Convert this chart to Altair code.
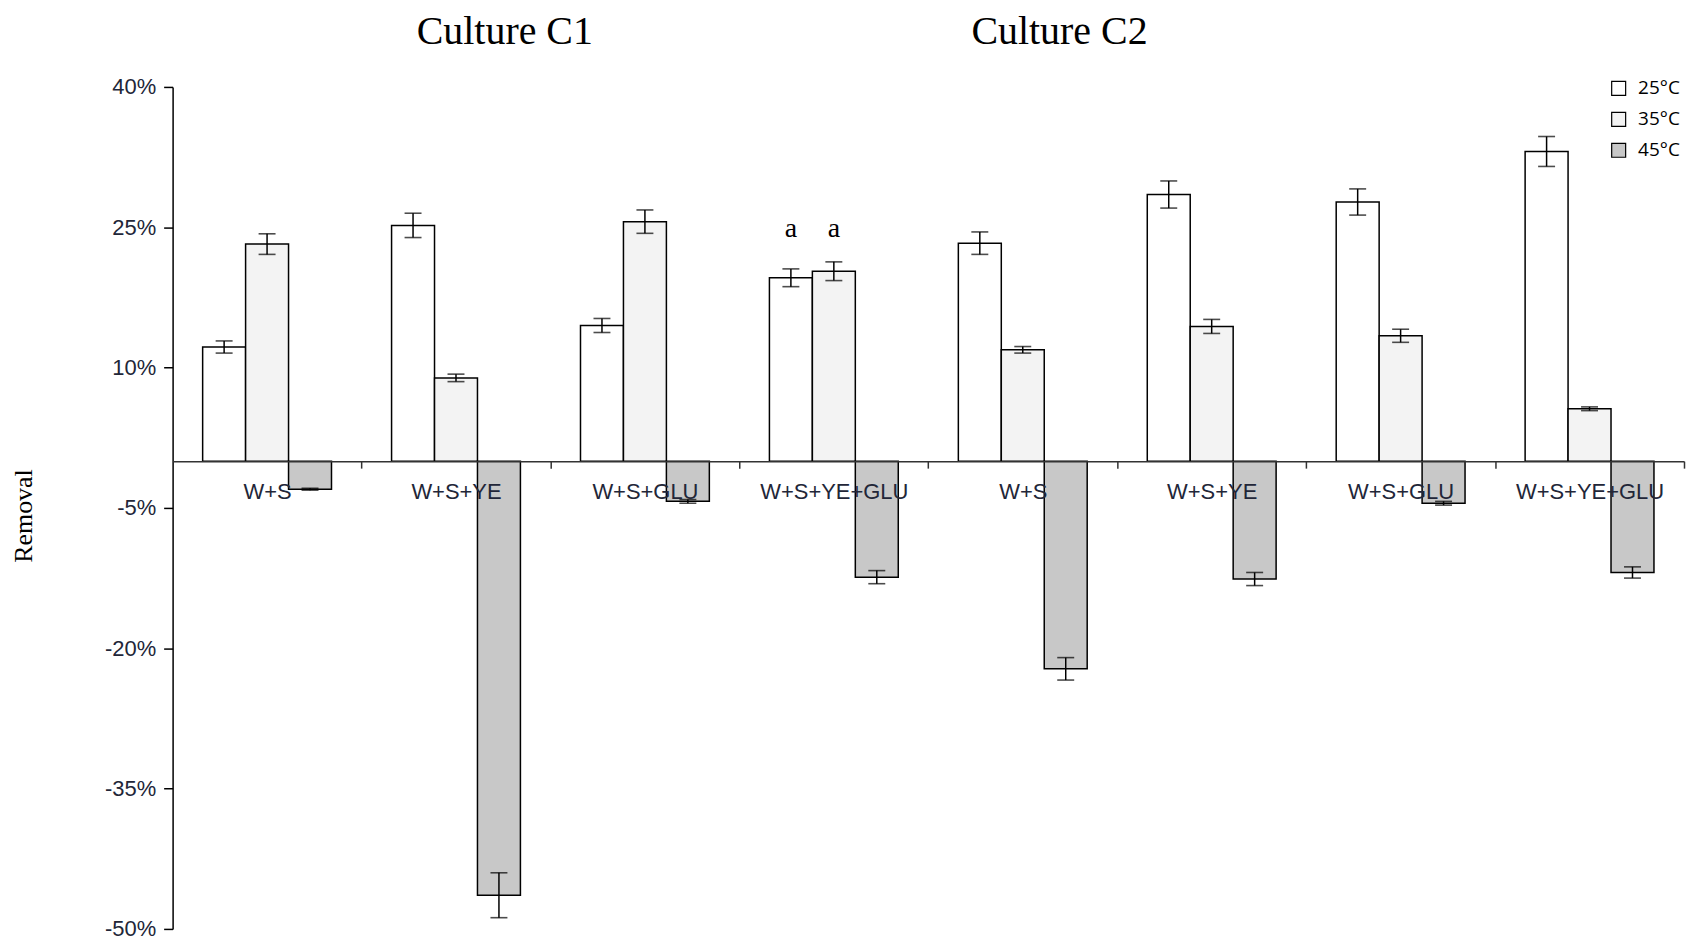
import altair as alt
import pandas as pd

# ---- data ----
cultures = ["C1", "C1", "C1", "C1", "C2", "C2", "C2", "C2"]
treatments = ["W+S", "W+S+YE", "W+S+GLU", "W+S+YE+GLU",
              "W+S", "W+S+YE", "W+S+GLU", "W+S+YE+GLU"]
temps = ["25°C", "35°C", "45°C"]

v25 = [12.2, 25.2, 14.5, 19.6, 23.3, 28.5, 27.7, 33.1]
v35 = [23.2, 8.9, 25.6, 20.3, 11.9, 14.4, 13.4, 5.6]
v45 = [-3.0, -46.4, -4.3, -12.4, -22.2, -12.6, -4.5, -11.9]
e25 = [0.65, 1.3, 0.75, 0.95, 1.2, 1.45, 1.4, 1.6]
e35 = [1.1, 0.4, 1.25, 1.0, 0.35, 0.75, 0.7, 0.2]
e45 = [0.1, 2.4, 0.2, 0.7, 1.2, 0.7, 0.2, 0.6]

y_ticks = [-50, -35, -20, -5, 10, 25, 40]

letters = ["a", "a"]
letter_groups = ["C1|W+S+YE+GLU", "C1|W+S+YE+GLU"]
letter_temps = ["25°C", "35°C"]
letter_values = [24.8, 24.8]

titles = ["Culture C1", "Culture C2"]

# ---- build table ----
keys = [f"{c}|{t}" for c, t in zip(cultures, treatments)]
rows = []
for i, k in enumerate(keys):
    for temp, vals, errs in ((temps[0], v25, e25), (temps[1], v35, e35), (temps[2], v45, e45)):
        rows.append({"key": k, "temp": temp, "value": vals[i],
                     "lo": vals[i] - errs[i], "hi": vals[i] + errs[i]})
df = pd.DataFrame(rows)
ann = pd.DataFrame({"key": letter_groups, "temp": letter_temps,
                    "ly": letter_values, "txt": letters})

W, H = 1515, 844
step = W / len(keys)
label_col = "#222638"

x_enc = alt.X(
    "key:N", sort=keys,
    scale=alt.Scale(paddingInner=0.318, paddingOuter=0.159),
    axis=alt.Axis(
        title=None, orient="bottom", offset=-(H * 50 / 90),
        labelExpr="split(datum.label, '|')[1]", labelAngle=0,
        tickOffset=step / 2, labelOffset=-step / 2,
        tickSize=7, tickColor="#333333", tickWidth=1.5,
        domainColor="#333333", domainWidth=1.5,
        labelPadding=13, labelFont="Liberation Sans", labelFontSize=22,
        labelColor=label_col, labelOverlap=False, labelFlush=False,
        zindex=1,
    ),
)
xoff = alt.XOffset("temp:N", sort=temps,
                   scale=alt.Scale(domain=temps, paddingInner=0, paddingOuter=0))
y_scale = alt.Scale(domain=[-50, 40], nice=False, zero=False)
y_axis = alt.Axis(
    values=y_ticks, labelExpr="datum.value + '%'", grid=False,
    tickSize=9, labelPadding=8, domainColor="black", tickColor="black",
    domainWidth=1.5, tickWidth=1.5, labelFont="Liberation Sans",
    labelFontSize=22, labelColor=label_col,
    titleFont="Liberation Serif", titleFontSize=26, titleFontWeight="normal",
    titleColor="black", titleX=-149, titleY=H * 0.509, titleAngle=270,
    titleBaseline="middle", titleAlign="center",
)

def Y(field):
    return alt.Y(field, scale=y_scale, axis=y_axis, title="Removal")

bars = alt.Chart(df).mark_bar(stroke="black", strokeWidth=1.5).encode(
    x=x_enc, xOffset=xoff, y=Y("value:Q"),
    fill=alt.Fill("temp:N", sort=temps,
                  scale=alt.Scale(domain=temps, range=["#ffffff", "#f3f3f3", "#c8c8c8"]),
                  legend=alt.Legend(
                      title=None, orient="none", legendX=1440, legendY=-8,
                      symbolType="square", symbolSize=196,
                      symbolStrokeColor="black", symbolStrokeWidth=1.2,
                      labelFont="Open Sans", labelFontSize=19, labelColor="black",
                      labelOffset=10, rowPadding=11, padding=0,
                  )),
)

err_rule = alt.Chart(df).mark_rule(color="black", strokeWidth=1.5).encode(
    x=x_enc, xOffset=xoff, y=Y("lo:Q"), y2="hi:Q")
cap_lo = alt.Chart(df).mark_tick(color="black", thickness=1.6, size=17,
                                 orient="horizontal").encode(
    x=x_enc, xOffset=xoff, y=Y("lo:Q"))
cap_hi = alt.Chart(df).mark_tick(color="black", thickness=1.6, size=17,
                                 orient="horizontal").encode(
    x=x_enc, xOffset=xoff, y=Y("hi:Q"))

letters_layer = alt.Chart(ann).mark_text(
    font="Liberation Serif", fontSize=28, color="black", baseline="middle"
).encode(x=x_enc, xOffset=xoff, y=Y("ly:Q"), text="txt:N")

t1 = alt.Chart(pd.DataFrame({"t": [titles[0]]})).mark_text(
    font="Liberation Serif", fontSize=40, color="black", baseline="middle", align="center"
).encode(text="t:N", x=alt.value(333), y=alt.value(-55))
t2 = alt.Chart(pd.DataFrame({"t": [titles[1]]})).mark_text(
    font="Liberation Serif", fontSize=40, color="black", baseline="middle", align="center"
).encode(text="t:N", x=alt.value(889), y=alt.value(-55))

chart = alt.layer(bars, err_rule, cap_lo, cap_hi, letters_layer, t1, t2).properties(
    width=W, height=H,
    autosize=alt.AutoSizeParams(type="none"),
    padding={"left": 165, "top": 78, "right": 2, "bottom": 12},
    background="white",
).configure_view(stroke=None)

chart.save("out.html", embed_options={"renderer": "svg", "actions": False})
